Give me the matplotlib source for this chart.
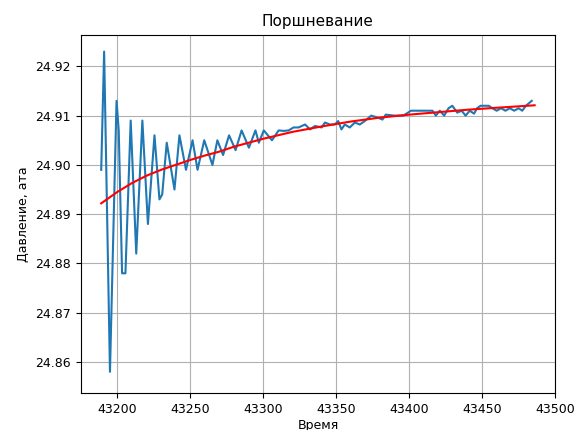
import matplotlib
matplotlib.use("Agg")
import matplotlib.pyplot as plt

t_meas = [43189, 43191, 43195, 43199.5, 43201, 43203.3, 43205.6, 43209.2, 43213,
          43217.2, 43221, 43225.5, 43228.9, 43230.8, 43233.9, 43239.2, 43242.6,
          43247.1, 43251.6, 43255, 43259.6, 43265.2, 43268.6, 43272.5, 43276.6,
          43281.1, 43285.2, 43290.2, 43294.7, 43297, 43300.4, 43306, 43310.6,
          43314, 43317.4, 43320.8, 43324.2, 43328.7, 43332.1, 43335.5, 43340,
          43342.3, 43345.7, 43349.1, 43351.4, 43353.6, 43355.9, 43359.3, 43362.8,
          43366.2, 43369.6, 43374, 43378.6, 43381.7, 43384, 43390, 43396, 43401.3,
          43404.7, 43416, 43418.3, 43421, 43424, 43427, 43429.6, 43433, 43436,
          43438.7, 43441.5, 43444.5, 43446.5, 43448.9, 43454.6, 43457, 43460,
          43463, 43466, 43469, 43472, 43475, 43477.5, 43480, 43484]
p_meas = [24.899, 24.923, 24.858, 24.913, 24.907, 24.878, 24.878, 24.909, 24.882,
          24.909, 24.888, 24.906, 24.893, 24.894, 24.9045, 24.895, 24.906,
          24.899, 24.905, 24.899, 24.905, 24.900, 24.905, 24.902, 24.906,
          24.903, 24.907, 24.9035, 24.907, 24.9045, 24.907, 24.905, 24.907,
          24.9069, 24.907, 24.9076, 24.9076, 24.9082, 24.9072, 24.9079, 24.9076,
          24.9086, 24.9082, 24.9082, 24.9089, 24.9072, 24.9082, 24.9076, 24.9086,
          24.9082, 24.9089, 24.910, 24.9096, 24.9092, 24.9102, 24.910, 24.910, 24.911,
          24.911, 24.911, 24.910, 24.911, 24.910, 24.9115, 24.912, 24.9106, 24.911,
          24.910, 24.911, 24.9104, 24.9115, 24.912, 24.912, 24.9115, 24.911,
          24.9115, 24.911, 24.9115, 24.911, 24.9115, 24.911, 24.912, 24.913]

# аппроксимация
t_fit = [43189, 43200, 43210, 43220, 43230, 43240, 43250, 43260, 43270, 43280,
         43290, 43300, 43320, 43340, 43360, 43380, 43400, 43420, 43440, 43460, 43486]
p_fit = [24.8922, 24.8945, 24.8963, 24.8978, 24.8990, 24.9000, 24.9010, 24.9019,
         24.9027, 24.9037, 24.9045, 24.9053, 24.9067, 24.9078, 24.9088, 24.9096,
         24.9102, 24.9107, 24.9112, 24.9116, 24.9121]

fig = plt.figure(figsize=(5.77, 4.30), dpi=100)
ax = fig.add_axes([0.14, 0.086, 0.822, 0.833])
ax.plot(t_meas, p_meas, color="tab:blue", lw=1.5)
ax.plot(t_fit, p_fit, color="red", lw=1.5)
ax.set_title("Поршневание", fontsize=11)
ax.set_xlabel("Время", fontsize=9, labelpad=2)
ax.set_ylabel("Давление, ата", fontsize=9)
ax.tick_params(labelsize=9)
ax.set_xticks([43200, 43250, 43300, 43350, 43400, 43450, 43500])
ax.set_yticks([24.86, 24.87, 24.88, 24.89, 24.90, 24.91, 24.92])
ax.set_xlim(43175, 43500)
ax.set_ylim(24.8537, 24.9264)
ax.grid(True)

fig.savefig("out.png", dpi=100)
